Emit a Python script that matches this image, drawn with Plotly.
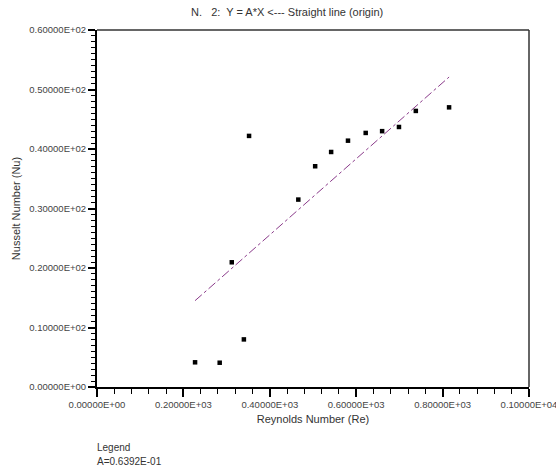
import plotly.graph_objects as go

# Data
re_vals = [227, 284, 340, 312, 352, 466, 505, 542, 581, 622, 660, 699, 738, 815]
nu_vals = [4.15, 4.08, 8.0, 20.96, 42.2, 31.5, 37.1, 39.5, 41.4, 42.7, 43.0, 43.7, 46.4, 47.0]
A = 0.06392
fit_x = [min(re_vals), max(re_vals)]
fit_y = [A * v for v in fit_x]

x_tickvals = [0, 200, 400, 600, 800, 1000]
x_ticktext = ["0.00000E+00", "0.20000E+03", "0.40000E+03", "0.60000E+03", "0.80000E+03", "0.10000E+04"]
y_tickvals = [0, 10, 20, 30, 40, 50, 60]
y_ticktext = ["0.00000E+00", "0.10000E+02", "0.20000E+02", "0.30000E+02", "0.40000E+02", "0.50000E+02", "0.60000E+02"]

FONT = "Liberation Sans Narrow, Arial Narrow, Liberation Sans, sans-serif"

fig = go.Figure()
fig.add_trace(go.Scatter(x=fit_x, y=fit_y, mode="lines",
                         line=dict(color="#8a3a8a", width=1, dash="dashdot"),
                         showlegend=False, hoverinfo="skip"))
fig.add_trace(go.Scatter(x=re_vals, y=nu_vals, mode="markers",
                         marker=dict(symbol="square", size=4.5, color="black"),
                         showlegend=False))

fig.update_layout(
    width=556, height=470,
    margin=dict(l=97, r=27, t=30, b=83),
    paper_bgcolor="white", plot_bgcolor="white",
    font=dict(family=FONT, size=10, color="#333333"),
    showlegend=False,
)
fig.update_xaxes(
    range=[0, 1000], tickvals=x_tickvals, ticktext=x_ticktext,
    showgrid=False, zeroline=False, automargin=False,
    showline=True, linecolor="black", linewidth=2,
    ticks="outside", ticklen=8, tickwidth=2, tickcolor="black",
    minor=dict(ticks="outside", ticklen=5, tickwidth=1, tickcolor="black", dtick=40, tick0=0),
    tickfont=dict(size=9.5, color="#444444"),
    ticklabeloverflow="allow",
    title=dict(text="Reynolds Number (Re)", font=dict(size=11, color="#333333"), standoff=6),
)
fig.update_yaxes(
    range=[0, 60], tickvals=y_tickvals, ticktext=y_ticktext,
    showgrid=False, zeroline=False, automargin=False,
    showline=True, linecolor="black", linewidth=2,
    ticks="outside", ticklen=7, tickwidth=2, tickcolor="black",
    minor=dict(ticks="outside", ticklen=4, tickwidth=1, tickcolor="black", dtick=1, tick0=0),
    tickfont=dict(size=9.5, color="#444444"),
    ticklabeloverflow="allow",
    title=dict(text="Nusselt Number (Nu)", font=dict(size=11, color="#333333"), standoff=6),
)

# thinner top and right frame lines
fig.add_shape(type="line", xref="paper", yref="paper", x0=0, x1=1, y0=1, y1=1,
              line=dict(color="#333333", width=1.5))
fig.add_shape(type="line", xref="paper", yref="paper", x0=1, x1=1, y0=0, y1=1,
              line=dict(color="#333333", width=1.5))

fig.add_annotation(text="N.   2:  Y = A*X <--- Straight line (origin)",
                   xref="paper", yref="paper", x=0.44, y=1.0, yshift=18,
                   xanchor="center", yanchor="middle", showarrow=False,
                   font=dict(size=11, color="#333333", family=FONT))
fig.add_annotation(text="Legend", xref="paper", yref="paper", x=-0.005, y=-0.17,
                   xanchor="left", yanchor="middle", showarrow=False,
                   font=dict(size=10, color="#333333", family=FONT))
fig.add_annotation(text="A=0.6392E-01", xref="paper", yref="paper", x=-0.005, y=-0.21,
                   xanchor="left", yanchor="middle", showarrow=False,
                   font=dict(size=10, color="#333333", family=FONT))

fig.write_html("out.html")
